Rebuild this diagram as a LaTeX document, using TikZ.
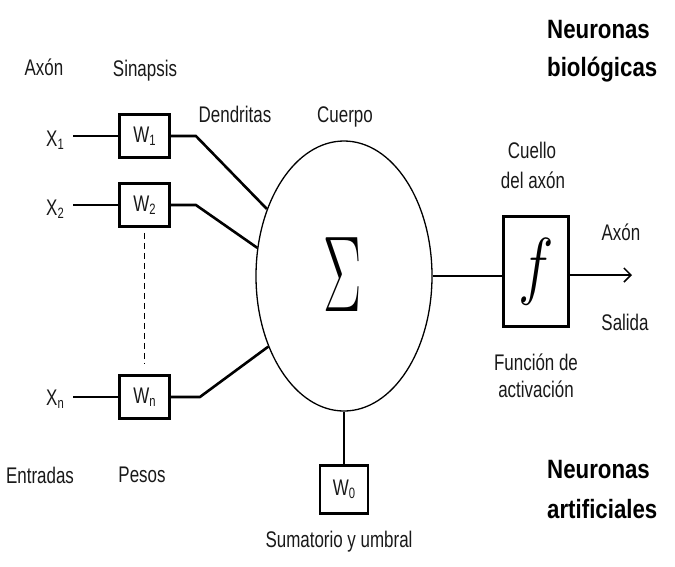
\RequirePackage{fix-cm}
\documentclass[tikz,border=0pt]{standalone}
\usepackage{fontspec}
\setmainfont{Liberation Sans}
\newfontfamily\lblfont[FakeStretch=0.75]{Liberation Sans}
\newfontfamily\hdfont[FakeStretch=0.84]{Liberation Sans Bold}
\usetikzlibrary{shapes.geometric,arrows.meta}
\definecolor{txt}{RGB}{25,25,25}
\newcommand\sbx[1]{\raisebox{-3pt}{\fontsize{15}{15}\selectfont #1}}
\tikzset{
  lab/.style={font=\lblfont\fontsize{22.6}{28}\selectfont, text=txt, inner sep=0pt, anchor=base},
  hd/.style={font=\hdfont\fontsize{26.5}{30}\selectfont, text=black, inner sep=0pt, anchor=base west},
  wbox/.style={draw, line width=2.8pt, minimum width=50pt, minimum height=43pt, inner sep=0pt,
    font=\lblfont\fontsize{22.6}{28}\selectfont, text=txt},
  conn/.style={line width=2.6pt},
}
\begin{document}
\begin{tikzpicture}[x=1pt,y=-1pt]
\useasboundingbox (0,0) rectangle (675,566);
% body
\node[ellipse, draw, line width=1.3pt, minimum width=176pt, minimum height=270pt, inner sep=0pt] (body) at (344,276) {};
\node[inner sep=0pt] (sigma) at (342.5,275) {\scalebox{0.53}[1]{\fontsize{108}{108}\selectfont$\Sigma$}};
% weight boxes
\node[wbox] (W1) at (144.5,136) {W\sbx{1}};
\node[wbox] (W2) at (144.5,205) {W\sbx{2}};
\node[wbox] (Wn) at (144.5,397) {W\sbx{n}};
\node[wbox, minimum width=48pt, minimum height=48pt] (W0) at (344,489.5) {W\sbx{0}};
% activation
\node[draw, line width=3pt, minimum width=65pt, minimum height=110pt, inner sep=0pt] (f) at (536,271.5)
  {\scalebox{0.8}[1]{\fontsize{75}{75}\selectfont$f$}};
\coordinate (out) at (632,275);
% connectors
\draw[conn] (W1.west) -- ++(-45,0);
\draw[conn] (W2.west) -- ++(-45,0);
\draw[conn] (Wn.west) -- ++(-45,0);
\draw[conn] (W1.east) -- ++(25,0) -- (body.139);
\draw[conn] (W2.east) -- ++(25,0) -- (body.162);
\draw[conn] (Wn.east) -- ++(29,0) -- (body.223);
\draw[line width=1pt, dash pattern=on 6pt off 4pt, shorten <=5pt, shorten >=11pt] (W2.south) -- (Wn.north);
\draw[line width=1.8pt] (body.south) -- (W0.north);
\draw[conn] (body.east) -- (body.east -| f.west);
\draw[conn, -{Straight Barb[length=7pt,width=14pt,line width=1.5pt]}] (f.east |- out) -- (out);
% labels
\node[lab] (l1) at (44,75) {Axón};
\node[lab] (l2) at (145,76) {Sinapsis};
\node[lab] (l3) at (235,122) {Dendritas};
\node[lab] (l4) at (345,122) {Cuerpo};
\node[lab] (x1) at (55,146) {X\sbx{1}};
\node[lab] (x2) at (55,215) {X\sbx{2}};
\node[lab] (xn) at (55,405) {X\sbx{n}};
\node[lab] (l5) at (40,483) {Entradas};
\node[lab] (l6) at (142,482) {Pesos};
\node[lab] (l7) at (532,158) {Cuello};
\node[lab] (l8) at (533,188) {del axón};
\node[lab] (l9) at (621,240) {Axón};
\node[lab] (l10) at (625,330) {Salida};
\node[lab] (l11) at (536,370) {Función de};
\node[lab] (l12) at (536,397) {activación};
\node[lab] (l13) at (339,547) {Sumatorio y umbral};
% headings
\node[hd] (h1) at (547,38) {Neuronas};
\node[hd] (h2) at (547,76) {biológicas};
\node[hd] (h3) at (547,478) {Neuronas};
\node[hd] (h4) at (547,518) {artificiales};
\end{tikzpicture}
\end{document}
